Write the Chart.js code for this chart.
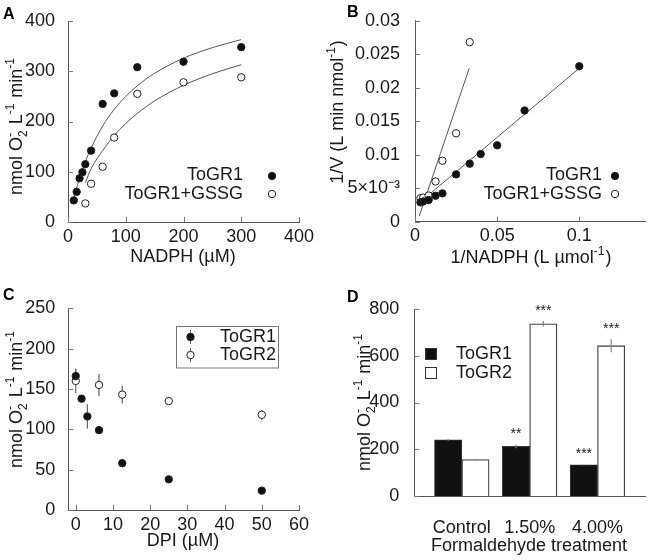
<!DOCTYPE html>
<html>
<head>
<meta charset="utf-8">
<script src="https://cdn.jsdelivr.net/npm/chart.js@4.4.1/dist/chart.umd.min.js"></script>
<style>
  body { margin: 0; background: #fff; }
  #wrap { position: relative; width: 650px; height: 560px; }
  .panel { position: absolute; width: 325px; height: 280px; }
</style>
</head>
<body>
<div id="wrap">
  <div class="panel" style="left:0;top:0"><canvas id="chartA" width="325" height="280"></canvas></div>
  <div class="panel" style="left:325px;top:0"><canvas id="chartB" width="325" height="280"></canvas></div>
  <div class="panel" style="left:0;top:280px"><canvas id="chartC" width="325" height="280"></canvas></div>
  <div class="panel" style="left:325px;top:280px"><canvas id="chartD" width="325" height="280"></canvas></div>
</div>
<script>
// ---- A: NADPH saturation ----
const nadph = [10, 15, 20, 25, 30, 40, 60, 80, 120, 200, 300];
const rateGR1 = [43, 60, 87, 99, 115, 142, 235, 256, 308, 319, 348];
const nadphGSSG = [30, 40, 60, 80, 120, 200, 300];
const rateGSSG = [37, 76, 110, 168, 255, 278, 288];
// fitted curves
const fitX1 = [10, 20, 30, 40, 60, 80, 100, 120, 150, 200, 250, 300];
const fitY1 = [48, 87, 120, 147, 191, 224, 250, 271, 296, 326, 347, 363];
const fitX2 = [30, 40, 60, 80, 100, 120, 150, 200, 250, 300];
const fitY2 = [78, 106, 142, 172, 196, 216, 241, 272, 295, 313];

// ---- B: double reciprocal ----
const invNadph = [0.0033, 0.005, 0.0083, 0.0125, 0.0167, 0.025, 0.0333, 0.04, 0.05, 0.0667, 0.1];
const invRateGR1 = [0.00289, 0.00303, 0.00323, 0.00388, 0.00423, 0.00706, 0.00866, 0.0101, 0.0114, 0.0166, 0.0232];
const invNadphGSSG = [0.0033, 0.005, 0.0083, 0.0125, 0.0167, 0.025, 0.0333];
const invRateGSSG = [0.0035, 0.0036, 0.0039, 0.006, 0.0091, 0.0132, 0.0268];
const lineX1 = [0.002, 0.1];
const lineY1 = [0.0027, 0.0229];
const lineX2 = [0.0026, 0.033];
const lineY2 = [0.00085, 0.0229];
const bXTicks = [0, 0.05, 0.1];
const bYTicks = [0, 0.005, 0.01, 0.015, 0.02, 0.025, 0.03];
const bYLabels = ['0', '5×10⁻³', '0.01', '0.015', '0.02', '0.025', '0.03'];

// ---- C: DPI inhibition ----
const dpi1 = [0, 1.5625, 3.125, 6.25, 12.5, 25, 50];
const dpiGR1 = [166, 138, 116, 99, 58, 38, 24];
const dpiGR1Err = [9, 3, 15, 3, 2, 2, 2];
const dpi2 = [0, 6.25, 12.5, 25, 50];
const dpiGR2 = [160, 155, 143, 135, 118];
const dpiGR2Err = [15, 14, 11, 3, 6];
const cXTicks = [0, 10, 20, 30, 40, 50, 60];

// ---- D: formaldehyde treatment ----
const treatments = ['Control', '1.50%', '4.00%'];
const fGR1 = [240, 212, 133];
const fGR1Err = [4, 8, 3];
const fGR2 = [156, 737, 643];
const fGR2Err = [3, 12, 28];
const sigGR1 = ['', '**', '***'];
const sigGR2 = ['', '***', '***'];

const FONT = '"Liberation Sans", Arial, Helvetica, sans-serif';
const FS = 18;
const INK = '#1a1a1a';
const AXIS = '#555';
Chart.defaults.font.family = FONT;
Chart.defaults.font.size = FS;
Chart.defaults.color = INK;
Chart.defaults.animation = false;
Chart.defaults.plugins.legend.display = false;
Chart.defaults.plugins.tooltip.enabled = false;

const pts = (xs, ys) => xs.map((x, i) => ({ x: x, y: ys[i] }));

// rich text with sub/superscripts, optionally rotated
function rich(ctx, cx, cy, parts, rotate) {
  ctx.save();
  ctx.translate(cx, cy);
  if (rotate) ctx.rotate(-Math.PI / 2);
  const items = parts.map(([txt, kind]) => {
    const size = kind === 'n' ? FS : 12;
    ctx.font = size + 'px ' + FONT;
    return { txt, kind, size, w: ctx.measureText(txt).width };
  });
  let total = 0;
  items.forEach((it, i) => {
    if (it.kind === 'stack') { it.adv = Math.max(0, it.w - items[i - 1].w); }
    else it.adv = it.w + (it.kind === 'n' ? 0 : 1);
    total += it.adv;
  });
  let x = -total / 2, prevX = x;
  ctx.fillStyle = INK;
  ctx.textBaseline = 'alphabetic';
  ctx.textAlign = 'left';
  items.forEach(it => {
    ctx.font = it.size + 'px ' + FONT;
    let dy = 6.4;
    if (it.kind === 'sup' || it.kind === 'stack') dy = -1.8;
    if (it.kind === 'sub') dy = 10.5;
    const px = it.kind === 'stack' ? prevX : x;
    ctx.fillText(it.txt, px, dy);
    prevX = x;
    x += it.adv;
  });
  ctx.restore();
}

function text(ctx, txt, x, y, align, font) {
  ctx.save();
  ctx.font = font || FS + 'px ' + FONT;
  ctx.fillStyle = INK;
  ctx.textAlign = align || 'center';
  ctx.textBaseline = 'middle';
  ctx.fillText(txt, x, y);
  ctx.restore();
}

function dot(ctx, x, y, filled, r) {
  ctx.save();
  ctx.beginPath();
  ctx.arc(x, y, r || 3.7, 0, Math.PI * 2);
  ctx.fillStyle = filled ? '#111' : '#fff';
  ctx.fill();
  ctx.lineWidth = 1;
  ctx.strokeStyle = '#222';
  ctx.stroke();
  ctx.restore();
}

function innerTicks(chart, id) {
  const s = chart.scales[id], a = chart.chartArea, ctx = chart.ctx;
  ctx.save();
  ctx.strokeStyle = '#777';
  ctx.lineWidth = 1;
  ctx.beginPath();
  s.ticks.forEach(t => {
    const p = Math.round(s.getPixelForValue(t.value)) + 0.5;
    if (s.isHorizontal()) { ctx.moveTo(p, a.bottom); ctx.lineTo(p, a.bottom - 5); }
    else { ctx.moveTo(a.left, p); ctx.lineTo(a.left + 5, p); }
  });
  ctx.stroke();
  ctx.restore();
}

function letter(ctx, l, x, y) {
  ctx.save();
  ctx.font = 'bold 16px ' + FONT;
  ctx.fillStyle = '#000';
  ctx.textBaseline = 'alphabetic';
  ctx.fillText(l, x, y);
  ctx.restore();
}

const rateTitle = [['nmol O', 'n'], ['2', 'sub'], ['-', 'stack'], [' L', 'n'], ['-1', 'sup'], [' min', 'n'], ['-1', 'sup']];

function axisX(min, max, height, ticks, extra) {
  return Object.assign({
    type: 'linear', min: min, max: max,
    grid: { display: false },
    border: { display: true, color: AXIS, width: 1 },
    ticks: Object.assign({ padding: -4, color: INK, maxRotation: 0 }, ticks),
    afterFit: s => { s.height = height; }
  }, extra || {});
}
function axisY(min, max, width, ticks, extra) {
  return Object.assign({
    type: 'linear', min: min, max: max,
    grid: { display: false },
    border: { display: true, color: AXIS, width: 1 },
    ticks: Object.assign({ padding: 5, color: INK }, ticks),
    afterFit: s => { s.width = width; }
  }, extra || {});
}

const filledPts = { pointRadius: 3.7, pointBackgroundColor: '#111', pointBorderColor: '#222', pointBorderWidth: 1, showLine: false };
const openPts = { pointRadius: 3.7, pointBackgroundColor: '#fff', pointBorderColor: '#222', pointBorderWidth: 1, showLine: false };
const fitLine = { showLine: true, pointRadius: 0, borderColor: '#555', borderWidth: 1, fill: false };

// ---- Panel A ----
new Chart(document.getElementById('chartA'), {
  type: 'scatter',
  data: {
    datasets: [
      Object.assign({ label: 'ToGR1', data: pts(nadph, rateGR1) }, filledPts),
      Object.assign({ label: 'ToGR1+GSSG', data: pts(nadphGSSG, rateGSSG) }, openPts),
      Object.assign({ label: 'fit1', data: pts(fitX1, fitY1), cubicInterpolationMode: 'monotone' }, fitLine),
      Object.assign({ label: 'fit2', data: pts(fitX2, fitY2), cubicInterpolationMode: 'monotone' }, fitLine)
    ]
  },
  options: {
    responsive: false,
    layout: { padding: { left: 0, top: 21, right: 26, bottom: 0 } },
    scales: {
      x: axisX(0, 400, 58, { stepSize: 100 }),
      y: axisY(0, 400, 68, { stepSize: 100 })
    }
  },
  plugins: [{
    id: 'decorA',
    afterDraw(chart) {
      const ctx = chart.ctx;
      innerTicks(chart, 'x');
      innerTicks(chart, 'y');
      letter(ctx, 'A', 3, 18.5);
      rich(ctx, 16, 126, rateTitle, true);
      text(ctx, 'NADPH (µM)', 183, 257);
      text(ctx, 'ToGR1', 243, 175, 'right');
      text(ctx, 'ToGR1+GSSG', 243, 194, 'right');
      dot(ctx, 272, 176, true);
      dot(ctx, 272, 194, false);
    }
  }]
});

// ---- Panel B ----
new Chart(document.getElementById('chartB'), {
  type: 'scatter',
  data: {
    datasets: [
      Object.assign({ label: 'ToGR1', data: pts(invNadph, invRateGR1) }, filledPts),
      Object.assign({ label: 'ToGR1+GSSG', data: pts(invNadphGSSG, invRateGSSG) }, openPts),
      Object.assign({ label: 'line1', data: pts(lineX1, lineY1) }, fitLine),
      Object.assign({ label: 'line2', data: pts(lineX2, lineY2) }, fitLine)
    ]
  },
  options: {
    responsive: false,
    layout: { padding: { left: 0, top: 20.7, right: 4.3, bottom: 0 } },
    scales: {
      x: axisX(0, 0.14, 58.3, { callback: v => String(v) }, {
        afterBuildTicks: s => { s.ticks = bXTicks.map(v => ({ value: v })); }
      }),
      y: axisY(0, 0.03, 90, { padding: 7, callback: (v, i) => bYLabels[i] }, {
        afterBuildTicks: s => { s.ticks = bYTicks.map(v => ({ value: v })); }
      })
    }
  },
  plugins: [{
    id: 'decorB',
    afterDraw(chart) {
      const ctx = chart.ctx;
      innerTicks(chart, 'x');
      innerTicks(chart, 'y');
      letter(ctx, 'B', 22, 17);
      rich(ctx, 12, 112, [['1/V (L min nmol', 'n'], ['-1', 'sup'], [')', 'n']], true);
      rich(ctx, 206, 257, [['1/NADPH (L µmol', 'n'], ['-1', 'sup'], [')', 'n']], false);
      text(ctx, 'ToGR1', 277, 175, 'right');
      text(ctx, 'ToGR1+GSSG', 277, 194, 'right');
      dot(ctx, 290, 176, true);
      dot(ctx, 290, 194, false);
    }
  }]
});

// ---- Panel C ----
function errBars(chart, xs, ys, errs) {
  const sx = chart.scales.x, sy = chart.scales.y, ctx = chart.ctx;
  ctx.save();
  ctx.strokeStyle = '#666';
  ctx.lineWidth = 1.2;
  ctx.beginPath();
  xs.forEach((xv, i) => {
    const px = sx.getPixelForValue(xv);
    ctx.moveTo(px, sy.getPixelForValue(ys[i] - errs[i]));
    ctx.lineTo(px, sy.getPixelForValue(ys[i] + errs[i]));
  });
  ctx.stroke();
  ctx.restore();
}

new Chart(document.getElementById('chartC'), {
  type: 'scatter',
  data: {
    datasets: [
      Object.assign({ label: 'ToGR1', data: pts(dpi1, dpiGR1) }, filledPts),
      Object.assign({ label: 'ToGR2', data: pts(dpi2, dpiGR2) }, openPts)
    ]
  },
  options: {
    responsive: false,
    layout: { padding: { left: 0, top: 28.3, right: 26, bottom: 0 } },
    scales: {
      x: axisX(-2, 60, 50, { padding: -4 }, {
        afterBuildTicks: s => { s.ticks = cXTicks.map(v => ({ value: v })); }
      }),
      y: axisY(0, 250, 68.3, { stepSize: 50 })
    }
  },
  plugins: [{
    id: 'decorC',
    beforeDatasetsDraw(chart) {
      errBars(chart, dpi2, dpiGR2, dpiGR2Err);
      errBars(chart, dpi1, dpiGR1, dpiGR1Err);
    },
    afterDraw(chart) {
      const ctx = chart.ctx;
      innerTicks(chart, 'x');
      innerTicks(chart, 'y');
      letter(ctx, 'C', 3, 20);
      rich(ctx, 16, 119, rateTitle, true);
      text(ctx, 'DPI (µM)', 183, 261);
      // legend box
      ctx.save();
      ctx.strokeStyle = '#777';
      ctx.lineWidth = 1;
      ctx.strokeRect(176.5, 46.5, 102, 41.5);
      ctx.strokeStyle = '#666';
      ctx.beginPath();
      ctx.moveTo(190.5, 50); ctx.lineTo(190.5, 64);
      ctx.moveTo(190.5, 68); ctx.lineTo(190.5, 82);
      ctx.stroke();
      ctx.restore();
      dot(ctx, 190.5, 57, true);
      dot(ctx, 190.5, 75, false);
      text(ctx, 'ToGR1', 276, 57, 'right');
      text(ctx, 'ToGR2', 276, 75, 'right');
    }
  }]
});

// ---- Panel D ----
new Chart(document.getElementById('chartD'), {
  type: 'bar',
  data: {
    datasets: [
      { label: 'ToGR1', data: pts([0, 1, 2], fGR1), backgroundColor: '#111', borderColor: '#333', borderWidth: 1, barThickness: 27.3 },
      { label: 'ToGR2', data: pts([0, 1, 2], fGR2), backgroundColor: '#fff', borderColor: '#444', borderWidth: 1.3, barThickness: 27.3 }
    ]
  },
  options: {
    responsive: false,
    layout: { padding: { left: 0, top: 29, right: 4.3, bottom: 0 } },
    scales: {
      x: axisX(-0.7, 2.71, 64, { padding: 13, callback: v => treatments[v] }, {
        offset: false,
        afterBuildTicks: s => { s.ticks = [0, 1, 2].map(v => ({ value: v })); }
      }),
      y: axisY(0, 800, 89.3, { padding: 7, stepSize: 200 })
    }
  },
  plugins: [{
    id: 'decorD',
    afterDatasetsDraw(chart) {
      const ctx = chart.ctx, sy = chart.scales.y;
      const sets = [[fGR1, fGR1Err, sigGR1], [fGR2, fGR2Err, sigGR2]];
      sets.forEach(([vals, errs, sig], di) => {
        const meta = chart.getDatasetMeta(di);
        meta.data.forEach((bar, i) => {
          const top = sy.getPixelForValue(vals[i] + errs[i]);
          ctx.save();
          ctx.strokeStyle = '#888';
          ctx.lineWidth = 1.2;
          ctx.beginPath();
          ctx.moveTo(bar.x, sy.getPixelForValue(vals[i] - errs[i]));
          ctx.lineTo(bar.x, top);
          ctx.stroke();
          ctx.restore();
          if (sig[i]) text(ctx, sig[i], bar.x, top - 10, 'center', '14px ' + FONT);
        });
      });
    },
    afterDraw(chart) {
      const ctx = chart.ctx;
      innerTicks(chart, 'y');
      letter(ctx, 'D', 22, 21.5);
      rich(ctx, 39, 122, rateTitle, true);
      text(ctx, 'Formaldehyde treatment', 204, 266);
      ctx.save();
      ctx.fillStyle = '#111';
      ctx.fillRect(100, 68, 12, 12);
      ctx.strokeStyle = '#333';
      ctx.strokeRect(100.5, 68.5, 11, 11);
      ctx.fillStyle = '#fff';
      ctx.fillRect(100, 87, 12, 12);
      ctx.strokeRect(100.5, 87.5, 11, 11);
      ctx.restore();
      text(ctx, 'ToGR1', 131, 74, 'left');
      text(ctx, 'ToGR2', 131, 93, 'left');
    }
  }]
});
</script>
</body>
</html>
